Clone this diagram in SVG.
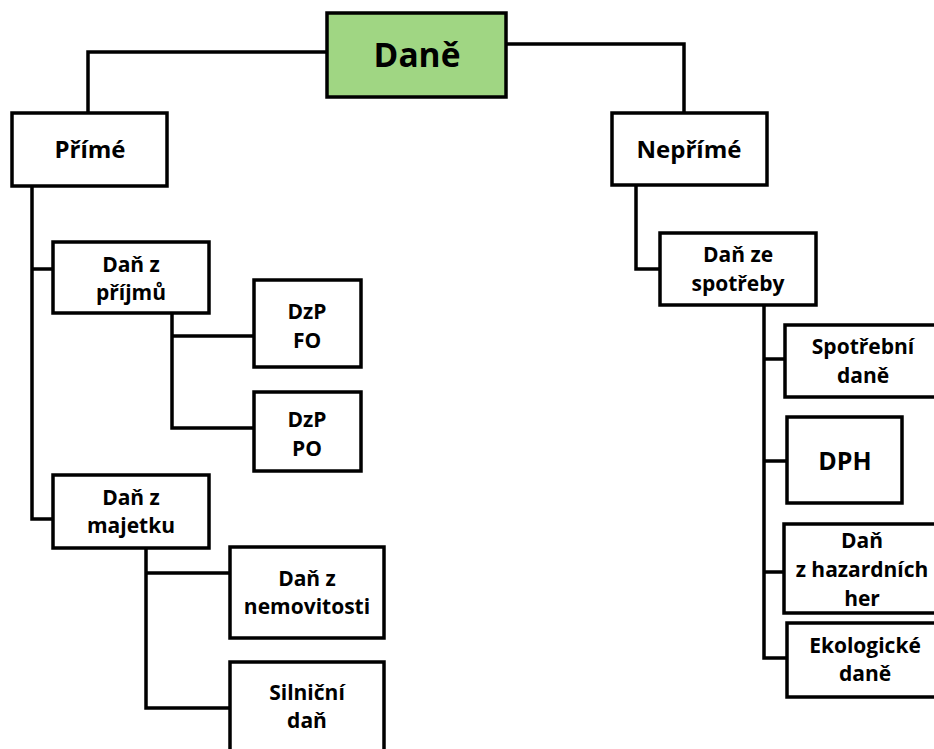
<svg xmlns="http://www.w3.org/2000/svg" width="934" height="749" viewBox="0 0 934 749">
<style>
.b{fill:#fff;stroke:#000;stroke-width:3.5}
.c{fill:none;stroke:#000;stroke-width:3.5;stroke-linejoin:miter}
text{font-family:"Open Sans","Noto Sans",sans-serif;font-weight:700;fill:#000;text-anchor:middle}
.t{font-size:21px}
.h{font-size:24px}
</style>
<rect width="934" height="749" fill="#fff"/>
<g id="connectors">
<path class="c" d="M327,52 H88 V113"/>
<path class="c" d="M506,44 H684 V113"/>
<path class="c" d="M32,186 V519 H53 M32,269 H53"/>
<path class="c" d="M172,313 V428 H254 M172,336 H254"/>
<path class="c" d="M146,548 V708 H230 M146,573 H230"/>
<path class="c" d="M636,185 V269 H660"/>
<path class="c" d="M764,305 V658 H787 M764,359 H785 M764,461 H787 M764,572 H784"/>
</g>
<g id="dane"><rect x="327" y="13" width="179" height="84" fill="#a0d683" stroke="#000" stroke-width="3.5"/><text x="417" y="67" font-size="33.5">Daně</text></g>
<g id="prime"><rect class="b" x="12" y="113" width="155" height="73"/><text class="h" x="90" y="158">Přímé</text></g>
<g id="neprime"><rect class="b" x="612" y="113" width="155" height="72"/><text class="h" x="689" y="158">Nepřímé</text></g>
<g id="dan-prijmu"><rect class="b" x="53" y="242" width="156" height="71"/><text class="t" x="131" y="272">Daň z</text><text class="t" x="131" y="300">příjmů</text></g>
<g id="dzp-fo"><rect class="b" x="254" y="280" width="107" height="87"/><text class="t" x="307" y="319">DzP</text><text class="t" x="307" y="348">FO</text></g>
<g id="dzp-po"><rect class="b" x="254" y="392" width="107" height="79"/><text class="t" x="307" y="427">DzP</text><text class="t" x="307" y="456">PO</text></g>
<g id="dan-majetku"><rect class="b" x="53" y="475" width="156" height="73"/><text class="t" x="131" y="505">Daň z</text><text class="t" x="131" y="533">majetku</text></g>
<g id="dan-nemovitosti"><rect class="b" x="230" y="547" width="154" height="91"/><text class="t" x="307" y="586">Daň z</text><text class="t" x="307" y="614">nemovitosti</text></g>
<g id="silnicni"><rect class="b" x="230" y="662" width="154" height="100"/><text class="t" x="307" y="700">Silniční</text><text class="t" x="307" y="728">daň</text></g>
<g id="dan-spotreby"><rect class="b" x="660" y="233" width="156" height="72"/><text class="t" x="738" y="262">Daň ze</text><text class="t" x="738" y="291">spotřeby</text></g>
<g id="spotrebni"><rect class="b" x="785" y="325" width="160" height="72"/><text class="t" x="863" y="354">Spotřební</text><text class="t" x="863" y="383">daně</text></g>
<g id="dph"><rect class="b" x="787" y="417" width="115" height="86"/><text x="845" y="470" font-size="25">DPH</text></g>
<g id="hazard"><rect class="b" x="784" y="524" width="160" height="89"/><text class="t" x="862" y="548">Daň</text><text class="t" x="862" y="577">z hazardních</text><text class="t" x="862" y="606">her</text></g>
<g id="ekolog"><rect class="b" x="787" y="623" width="160" height="74"/><text class="t" x="865" y="653">Ekologické</text><text class="t" x="865" y="681">daně</text></g>
</svg>
